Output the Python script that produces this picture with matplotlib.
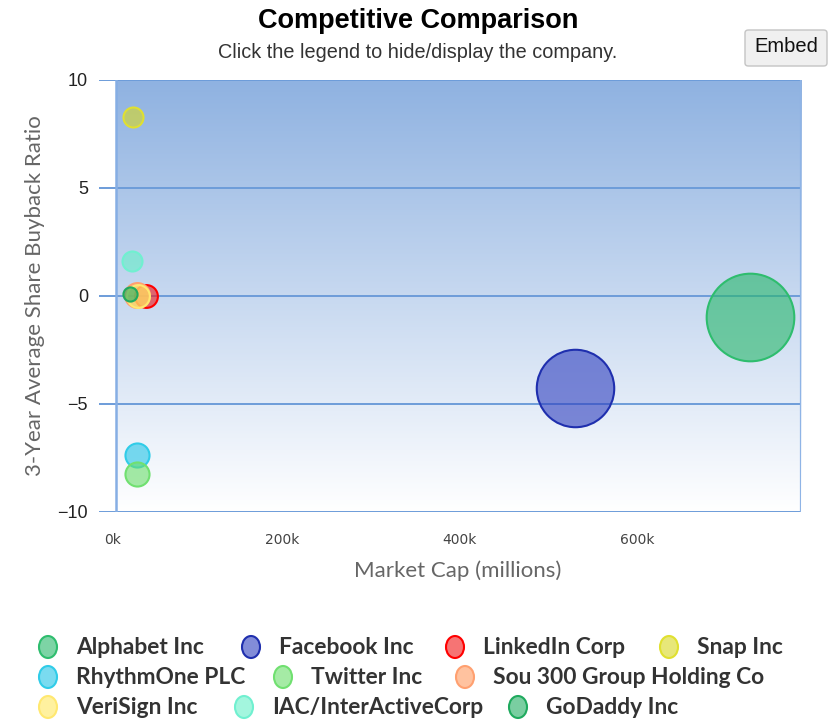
import matplotlib
matplotlib.use('Agg')
import matplotlib.pyplot as plt
import numpy as np
from matplotlib.patches import Ellipse, FancyBboxPatch
from matplotlib.ticker import FuncFormatter, FixedLocator
from matplotlib.colors import LinearSegmentedColormap, to_rgba

# ---------------- data ----------------
companies = ['Alphabet Inc', 'Facebook Inc', 'LinkedIn Corp', 'Snap Inc',
             'RhythmOne PLC', 'Twitter Inc', 'Sou 300 Group Holding Co',
             'VeriSign Inc', 'IAC/InterActiveCorp', 'GoDaddy Inc']
market_cap = [727000, 529600, 47300, 33000, 37500, 36800, 37700, 38200, 31500, 29000]
buyback_ratio = [-0.98, -4.28, 0.0, 8.28, -7.37, -8.22, 0.05, 0.0, 1.6, 0.07]
bubble_z = [1920, 1500, 130, 100, 145, 145, 155, 130, 100, 50]
x_ticks = [0, 200000, 400000, 600000]
y_ticks = [-10, -5, 0, 5, 10]

colors = ['#27b86a', '#2f3fbf', '#f01818', '#d8d820', '#22c4e6',
          '#6ade6a', '#ff9a60', '#ffe860', '#66f0c8', '#22ae62']
edges = ['#2ebd6e', '#1f2fae', '#ff0000', '#e0e030', '#30cce8',
         '#70e070', '#ffa070', '#ffe870', '#70f0d0', '#1faa5e']

DPI = 100
W, H = 836, 720
fig = plt.figure(figsize=(W / DPI, H / DPI), dpi=DPI)
fig.patch.set_facecolor('white')

def fx(px):
    return px / W

def fy(py):
    return 1 - py / H

ax_l, ax_r, ax_t, ax_b = 99, 801, 80, 512
ax = fig.add_axes([fx(ax_l), fy(ax_b), fx(ax_r - ax_l), (ax_b - ax_t) / H])
ax.set_xlim(-5600, 784000)
ax.set_ylim(-10, 10)
ax.set_facecolor('none')
for s in ax.spines.values():
    s.set_visible(False)

# gradient background (plot area)
bg_left = (115.7 - ax_l) / (ax_r - ax_l)
cmap = LinearSegmentedColormap.from_list('bg', ['#ffffff', '#8fb2e1'])
grad = np.linspace(0, 1, 256).reshape(-1, 1)
ax.imshow(grad, cmap=cmap, aspect='auto', origin='lower',
          extent=[bg_left, 1, 0, 1], transform=ax.transAxes, zorder=0)

gridc = '#6d9cd9'
for yv in y_ticks:
    ax.axhline(yv, color=gridc, lw=1.4, zorder=1)
ax.plot([bg_left, bg_left], [0, 1], transform=ax.transAxes, color='#86aee4', lw=1.8, zorder=1)
ax.plot([1, 1], [0, 1], transform=ax.transAxes, color='#8fb4e6', lw=1.6, zorder=1)

# bubbles
scale = 4 * (72 / DPI) ** 2
for i in range(len(companies)):
    ax.scatter([market_cap[i]], [buyback_ratio[i]], s=bubble_z[i] * scale,
               facecolor=to_rgba(colors[i], 0.6), edgecolor=edges[i],
               linewidth=1.5, zorder=3 + i)

ax.xaxis.set_major_locator(FixedLocator(x_ticks))
ax.yaxis.set_major_locator(FixedLocator(y_ticks))
ax.xaxis.set_major_formatter(FuncFormatter(lambda v, p: f'{int(v/1000)}k'))
ax.yaxis.set_major_formatter(FuncFormatter(lambda v, p: f'{int(v)}' if v >= 0 else f'\u2212{int(-v)}'))
ax.tick_params(axis='x', length=0, pad=15, labelsize=10, labelcolor='#444444')
ax.tick_params(axis='y', length=0, pad=8, labelsize=13, labelcolor='#222222')
fig.canvas.draw()
for lbl in ax.get_xticklabels():
    lbl.set_fontfamily('DejaVu Sans')
xlbls = ax.get_xticklabels()
xlbls[0].set_horizontalalignment('left')
for lbl in ax.get_yticklabels():
    lbl.set_fontfamily('Liberation Sans')

ax.set_xlabel('Market Cap (millions)', fontsize=16, color='#666666', family='Lato')
ax.xaxis.set_label_coords((458 - ax_l) / (ax_r - ax_l), (ax_b - 560) / (ax_b - ax_t))
ax.set_ylabel('3-Year Average Share Buyback Ratio', fontsize=16, color='#666666', family='Lato')
ax.yaxis.set_label_coords((45 - ax_l) / (ax_r - ax_l), 0.5)

# titles
fig.text(fx(418), fy(21), 'Competitive Comparison', ha='center', va='center',
         fontsize=19.5, fontweight='bold', family='Liberation Sans', color='#000000')
fig.text(fx(418), fy(53), 'Click the legend to hide/display the company.', ha='center', va='center',
         fontsize=14.3, family='Liberation Sans', color='#333333')

# Embed button
btn = FancyBboxPatch((fx(745), fy(66)), fx(82), (66 - 30) / H,
                     boxstyle='round,pad=0,rounding_size=0.004',
                     transform=fig.transFigure, facecolor='#f0f0f0',
                     edgecolor='#c4c4c4', lw=1.0, clip_on=False)
fig.patches.append(btn)
fig.text(fx(786), fy(47), 'Embed', ha='center', va='center', fontsize=14.5,
         family='Liberation Sans', color='#111111')

# legend
leg_rows = [647, 677, 707]
leg_layout = [(0, 48), (0, 251), (0, 455), (0, 669),
              (1, 48), (1, 283), (1, 465),
              (2, 48), (2, 244), (2, 518)]
for i, name in enumerate(companies):
    r, cx = leg_layout[i]
    cy = leg_rows[r]
    el = Ellipse((fx(cx), fy(cy)), 18 / W, 22 / H, transform=fig.transFigure,
                 facecolor=to_rgba(colors[i], 0.6), edgecolor=edges[i], lw=1.5)
    fig.patches.append(el)
    fig.text(fx(cx + 28), fy(cy + 1), name, ha='left', va='center', fontsize=16.4,
             fontweight='bold', family='Lato', color='#333333')

fig.savefig('out.png', dpi=DPI)
